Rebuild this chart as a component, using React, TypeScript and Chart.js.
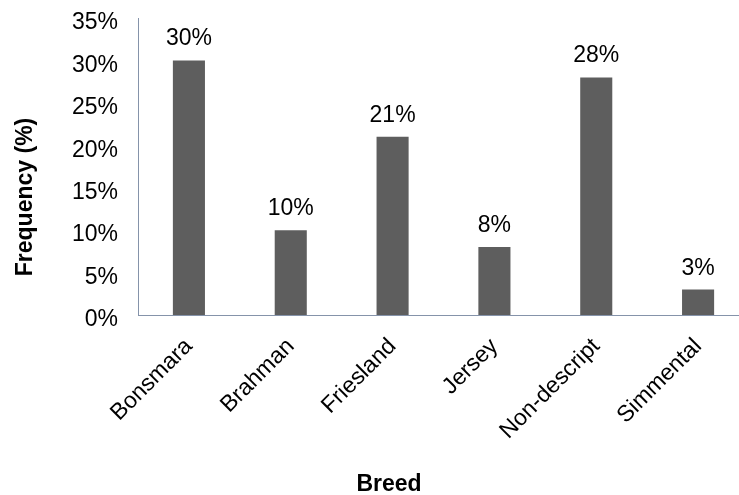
import React, { useEffect, useRef } from "react";
import { Chart, registerables } from "chart.js";

Chart.register(...registerables);

const categories = ["Bonsmara", "Brahman", "Friesland", "Jersey", "Non-descript", "Simmental"];
const frequencies = [30, 10, 21, 8, 28, 3];
const yTickValues = [0, 5, 10, 15, 20, 25, 30, 35];
const yTickLabels = ["0%", "5%", "10%", "15%", "20%", "25%", "30%", "35%"];
const xTitle = "Breed";
const yTitle = "Frequency (%)";

const FONT = "'Liberation Sans', Arial, sans-serif";

const labelsPlugin = {
  id: "barLabelsAndTitles",
  afterDatasetsDraw(chart: any) {
    const ctx = chart.ctx;
    const meta = chart.getDatasetMeta(0);
    ctx.save();
    ctx.fillStyle = "#000000";
    ctx.font = `23px ${FONT}`;
    ctx.textAlign = "center";
    ctx.textBaseline = "alphabetic";
    meta.data.forEach((bar: any, i: number) => {
      ctx.fillText(frequencies[i] + "%", bar.x, bar.y - 15);
    });
    ctx.font = `bold 23px ${FONT}`;
    ctx.fillText(xTitle, 389, 491);
    ctx.translate(32, 197);
    ctx.rotate(-Math.PI / 2);
    ctx.fillText(yTitle, 0, 0);
    ctx.restore();
  },
};

export default function App() {
  const canvasRef = useRef<HTMLCanvasElement | null>(null);

  useEffect(() => {
    if (!canvasRef.current) return;
    const chart = new Chart(canvasRef.current, {
      type: "bar",
      data: {
        labels: categories,
        datasets: [
          {
            data: frequencies,
            backgroundColor: "#5E5E5E",
            borderWidth: 0,
            categoryPercentage: 1,
            barPercentage: 0.315,
          },
        ],
      },
      options: {
        animation: false,
        responsive: true,
        maintainAspectRatio: false,
        layout: { padding: { left: 0, top: 18, right: 21, bottom: 0 } },
        plugins: {
          legend: { display: false },
          tooltip: { enabled: false },
          title: { display: false },
        },
        scales: {
          x: {
            grid: { display: false, drawTicks: false },
            border: { display: true, color: "#8593AA", width: 1 },
            ticks: {
              autoSkip: false,
              minRotation: 45,
              maxRotation: 45,
              padding: 18,
              color: "#000000",
              font: { family: FONT, size: 23 },
            },
            afterFit: (s: any) => {
              s.height = 180;
              s.paddingLeft = 0;
              s.paddingRight = 0;
            },
          },
          y: {
            min: 0,
            max: 35,
            grid: { display: false, drawTicks: false },
            border: { display: true, color: "#8593AA", width: 1 },
            afterBuildTicks: (s: any) => {
              s.ticks = yTickValues.map((v) => ({ value: v }));
            },
            ticks: {
              padding: 20,
              labelOffset: 5,
              color: "#000000",
              font: { family: FONT, size: 23 },
              callback: (v: any) => {
                const idx = yTickValues.indexOf(Number(v));
                return idx >= 0 ? yTickLabels[idx] : "";
              },
            },
            afterFit: (s: any) => {
              s.width = 138;
              s.paddingTop = 0;
              s.paddingBottom = 0;
            },
          },
        },
      },
      plugins: [labelsPlugin],
    });
    return () => chart.destroy();
  }, []);

  return (
    <div
      style={{
        position: "fixed",
        left: 0,
        top: 0,
        width: 739,
        height: 495,
        overflow: "hidden",
        background: "#ffffff",
      }}
    >
      <div style={{ position: "relative", width: 770, height: 495 }}>
        <canvas ref={canvasRef} />
      </div>
    </div>
  );
}
